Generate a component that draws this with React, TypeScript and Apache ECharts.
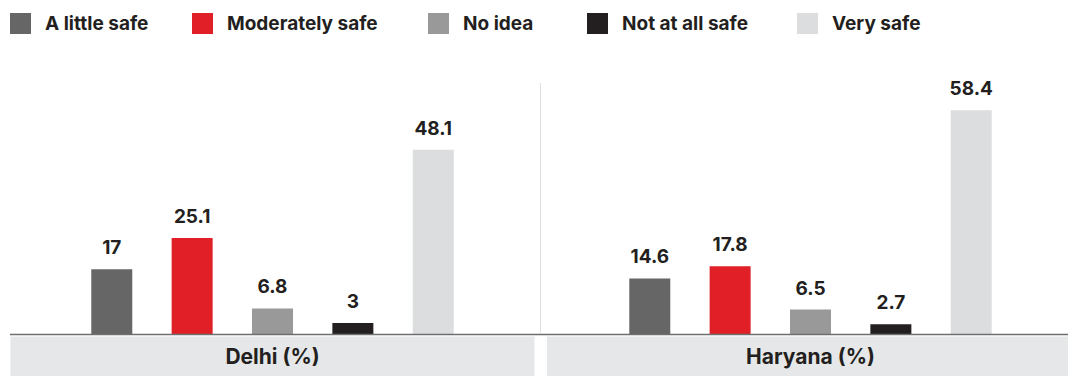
import React, { useEffect, useRef } from "react";
import * as echarts from "echarts";

const seriesNames = ["A little safe", "Moderately safe", "No idea", "Not at all safe", "Very safe"];
const delhiCategory = ["Delhi (%)"];
const haryanaCategory = ["Haryana (%)"];
const delhiValues = [17, 25.1, 6.8, 3, 48.1];
const haryanaValues = [14.6, 17.8, 6.5, 2.7, 58.4];

const colors = ["#666666", "#e01f27", "#999999", "#231f20", "#dcdddf"];
const legendLeft = [10, 192, 428, 587, 797];
const FONT = "Inter, Roboto, sans-serif";
const TEXT = "#231f20";

export default function App() {
  const ref = useRef<HTMLDivElement>(null);
  useEffect(() => {
    if (!ref.current) return;
    const chart = echarts.init(ref.current, undefined, { renderer: "svg" });
    const top = 104.1;
    const height = 230.4;
    const labelStyle = {
      show: true,
      position: "top",
      distance: 12,
      fontSize: 19,
      fontWeight: "bold",
      fontFamily: FONT,
      color: TEXT,
    };
    const series: any[] = [];
    seriesNames.forEach((name, i) => {
      series.push({
        type: "bar",
        name,
        xAxisIndex: 0,
        yAxisIndex: 0,
        data: [delhiValues[i]],
        barWidth: 41,
        barGap: "96%",
        itemStyle: { color: colors[i] },
        label: labelStyle,
      });
      series.push({
        type: "bar",
        name,
        xAxisIndex: 1,
        yAxisIndex: 1,
        data: [haryanaValues[i]],
        barWidth: 41,
        barGap: "96%",
        itemStyle: { color: colors[i] },
        label: labelStyle,
      });
    });
    const axisLabel = (w: number) => ({
      margin: 2,
      fontSize: 21,
      fontWeight: "bold",
      fontFamily: FONT,
      color: TEXT,
      formatter: (v: string) => `{box|${v}}`,
      rich: {
        box: {
          width: w,
          height: 40,
          lineHeight: 40,
          backgroundColor: "#e6e7e8",
          align: "center",
          fontSize: 21,
          fontWeight: "bold",
          fontFamily: FONT,
          color: TEXT,
        },
      },
    });
    chart.setOption({
      animation: false,
      legend: seriesNames.map((n, i) => ({
        data: [n],
        left: legendLeft[i],
        top: 13,
        padding: 0,
        itemWidth: 21,
        itemHeight: 21,
        icon: "rect",
        selectedMode: false,
        textStyle: {
          fontSize: 19,
          fontWeight: "bold",
          fontFamily: FONT,
          color: TEXT,
          padding: [0, 0, 0, 9],
        },
      })),
      grid: [
        { left: 10, width: 525, top, height, outerBoundsMode: "none", containLabel: false },
        { left: 553, width: 515, top, height, outerBoundsMode: "none", containLabel: false },
      ],
      xAxis: [
        {
          gridIndex: 0,
          type: "category",
          data: delhiCategory,
          axisLine: { show: false },
          axisTick: { show: false },
          axisLabel: axisLabel(524),
        },
        {
          gridIndex: 1,
          type: "category",
          data: haryanaCategory,
          axisLine: { show: false },
          axisTick: { show: false },
          axisLabel: axisLabel(527),
        },
      ],
      yAxis: [
        { gridIndex: 0, type: "value", min: 0, max: 60, show: false },
        { gridIndex: 1, type: "value", min: 0, max: 60, show: false },
      ],
      graphic: [
        {
          type: "line",
          z: 100,
          shape: { x1: 10, y1: 334.5, x2: 1068, y2: 334.5 },
          style: { stroke: "#6d6e71", lineWidth: 1.5 },
        },
        {
          type: "line",
          z: 100,
          shape: { x1: 540.5, y1: 83, x2: 540.5, y2: 334 },
          style: { stroke: "#dedfe0", lineWidth: 1 },
        },
      ],
      series,
    });
    return () => chart.dispose();
  }, []);
  return (
    <div
      ref={ref}
      style={{ position: "absolute", left: 0, top: 0, width: 1068, height: 376 }}
    />
  );
}
